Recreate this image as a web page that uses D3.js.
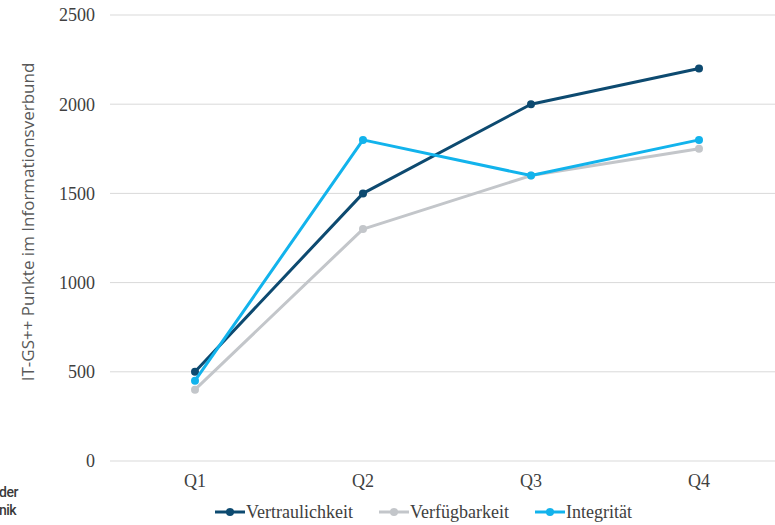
<!DOCTYPE html>
<html>
<head>
<meta charset="utf-8">
<script src="https://cdn.jsdelivr.net/npm/d3@7"></script>
<style>
  body { margin: 0; background: #fff; overflow: hidden; }
  svg { display: block; }
</style>
</head>
<body>
<div id="chart"></div>
<script>
// quarters and point totals per protection goal
const quarters = ["Q1", "Q2", "Q3", "Q4"];
const vertraulichkeit = [500, 1500, 2000, 2200];
const verfuegbarkeit = [400, 1300, 1600, 1750];
const integritaet = [450, 1800, 1600, 1800];
const yTicks = [0, 500, 1000, 1500, 2000, 2500];

const series = [
    {name: "Vertraulichkeit", values: vertraulichkeit, color: "#0d4a70"},
    {name: "Verfügbarkeit", values: verfuegbarkeit, color: "#c3c6ca"},
    {name: "Integrität", values: integritaet, color: "#12b3ec"}
];

const width = 775, height = 525;
const svg = d3.select("#chart").append("svg")
    .attr("width", width)
    .attr("height", height);

const x = d3.scalePoint()
    .domain(quarters)
    .range([111, 783])
    .padding(0.5);

const y = d3.scaleLinear()
    .domain([0, 2500])
    .range([461, 15]);

// gridlines
svg.append("g")
    .selectAll("line")
    .data(yTicks)
    .join("line")
    .attr("x1", 110)
    .attr("x2", width)
    .attr("y1", d => y(d))
    .attr("y2", d => y(d))
    .attr("stroke", "#d9d9d9")
    .attr("stroke-width", 1);

// y tick labels
const serif = "Georgia, 'Liberation Serif', serif";
svg.append("g")
    .selectAll("text")
    .data(yTicks)
    .join("text")
    .attr("x", 95)
    .attr("y", d => y(d))
    .attr("dy", "0.35em")
    .attr("text-anchor", "end")
    .style("font-family", serif)
    .style("font-size", "18px")
    .style("fill", "#404040")
    .text(d => d);

// x tick labels
svg.append("g")
    .selectAll("text")
    .data(quarters)
    .join("text")
    .attr("x", d => x(d))
    .attr("y", 487)
    .attr("text-anchor", "middle")
    .style("font-family", serif)
    .style("font-size", "18px")
    .style("fill", "#404040")
    .text(d => d);

// y axis title
svg.append("text")
    .attr("transform", "translate(34,222) rotate(-90)")
    .attr("text-anchor", "middle")
    .style("font-family", "'Open Sans', sans-serif")
    .style("font-size", "17px")
    .style("fill", "#595959")
    .text("IT-GS++ Punkte im Informationsverbund");

// lines + markers
const line = d3.line()
    .x((d, i) => x(quarters[i]))
    .y(d => y(d));

const groups = svg.append("g")
    .selectAll("g")
    .data(series)
    .join("g");

groups.append("path")
    .attr("d", d => line(d.values))
    .attr("fill", "none")
    .attr("stroke", d => d.color)
    .attr("stroke-width", 3)
    .attr("stroke-linejoin", "round");

groups.selectAll("circle")
    .data(d => d.values.map((v, i) => ({v: v, i: i, color: d.color})))
    .join("circle")
    .attr("cx", d => x(quarters[d.i]))
    .attr("cy", d => y(d.v))
    .attr("r", 4)
    .attr("fill", d => d.color);

// legend
const legendX = [215, 379, 535];
const legend = svg.append("g")
    .selectAll("g")
    .data(series)
    .join("g")
    .attr("transform", (d, i) => "translate(" + legendX[i] + ",512)");

legend.append("line")
    .attr("x1", 0).attr("x2", 30)
    .attr("stroke", d => d.color)
    .attr("stroke-width", 3);
legend.append("circle")
    .attr("cx", 15).attr("r", 4)
    .attr("fill", d => d.color);
legend.append("text")
    .attr("x", 31)
    .attr("dy", "0.35em")
    .style("font-family", serif)
    .style("font-size", "18px")
    .style("fill", "#404040")
    .text(d => d.name);

// visible tail of the source note at bottom left
const note = svg.append("text")
    .style("font-family", "Roboto, sans-serif")
    .style("font-size", "14px")
    .style("font-weight", "500")
    .style("letter-spacing", "-0.5px")
    .style("fill", "#3a3a3a");
note.append("tspan").attr("x", -1).attr("y", 497).text("der");
note.append("tspan").attr("x", -1).attr("y", 515).text("nik");
</script>
</body>
</html>
